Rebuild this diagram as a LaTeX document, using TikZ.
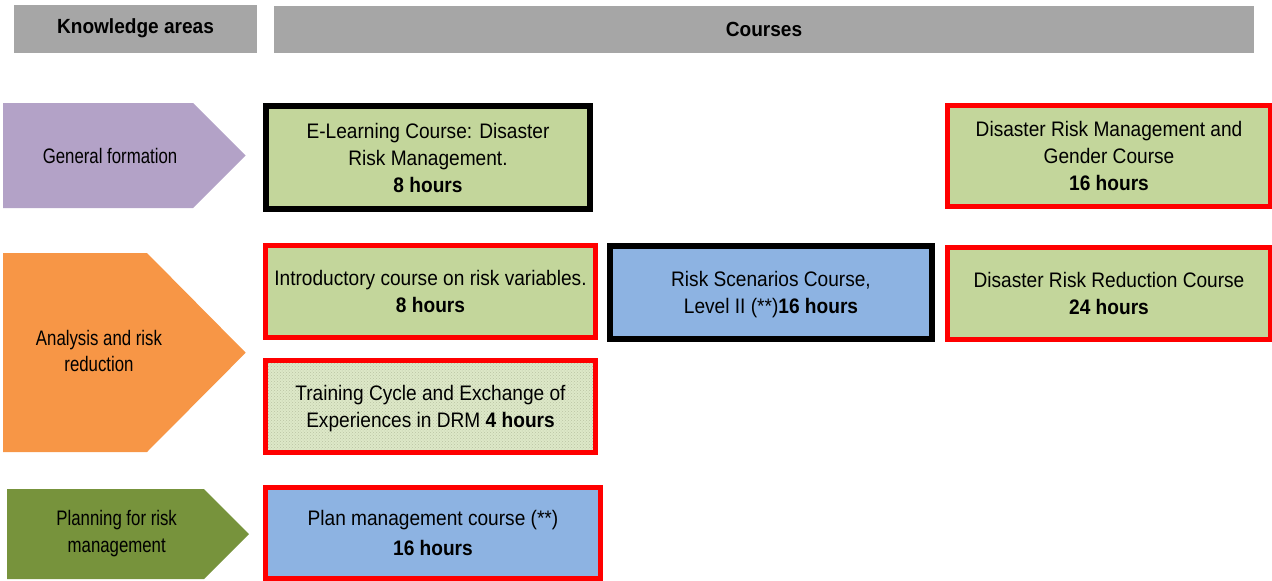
\documentclass[tikz,border=0pt]{standalone}
\usepackage{fontspec}
\setmainfont{Liberation Sans}
\newfontfamily\bodyf[FakeStretch=0.91]{Liberation Sans}
\newfontfamily\labf[FakeStretch=0.8]{Liberation Sans}
\newfontfamily\hdrf[FakeStretch=0.93]{Liberation Sans}
\usetikzlibrary{patterns}
\definecolor{hdrgray}{HTML}{A6A6A6}
\definecolor{olivefill}{HTML}{C3D69B}
\definecolor{palefill}{HTML}{DDE8C8}
\definecolor{bluefill}{HTML}{8DB3E2}
\definecolor{purplefill}{HTML}{B3A2C7}
\definecolor{orangefill}{HTML}{F79646}
\definecolor{greenfill}{HTML}{77933C}
\definecolor{redline}{HTML}{FF0000}
\tikzset{
  hdrbox/.style={fill=hdrgray, draw=none, inner sep=0pt, font=\hdrf\fontsize{20.5}{24}\selectfont\bfseries},
  coursebox/.style={inner sep=0pt, align=center, text depth=0pt, font=\bodyf\fontsize{21}{27}\selectfont},
  blackframe/.style={coursebox, draw=black, line width=6pt},
  redframe/.style={coursebox, draw=redline, line width=5pt},
  arealabel/.style={align=center, inner sep=0pt, font=\labf\fontsize{21}{26.5}\selectfont}
}
\begin{document}
\begin{tikzpicture}[x=1pt,y=-1pt]
\useasboundingbox (0,0) rectangle (1272,581);

% headers
\node[hdrbox, minimum width=243pt, minimum height=48pt] (hka) at (135.5,28.5) {Knowledge areas};
\node[hdrbox, minimum width=980pt, minimum height=47pt] (hco) at (764,29.5) {Courses};

% knowledge area arrows
\fill[purplefill] (3,103) -- (193,103) -- (245.7,155.5) -- (193,208) -- (3,208) -- cycle;
\fill[orangefill] (3,253) -- (147,253) -- (245.7,352.7) -- (147,452) -- (3,452) -- cycle;
\fill[greenfill] (7,489) -- (204,489) -- (249,534) -- (204,579) -- (7,579) -- cycle;
\node[arealabel] (gf) at (110,155.5) {General formation};
\node[arealabel] (ar) at (99,351) {Analysis and risk\\reduction};
\node[arealabel] (pl) at (116.7,533.8) {Planning for risk\\management};

% course boxes
\node[blackframe, fill=olivefill, minimum width=324pt, minimum height=103pt] (el) at (428,157.5)
  {E-Learning Course: Disaster\\Risk Management.\\\textbf{8 hours}};
\node[redframe, fill=olivefill, minimum width=323pt, minimum height=101pt] (gc) at (1109,156)
  {Disaster Risk Management and\\Gender Course\\\textbf{16 hours}};
\node[redframe, fill=olivefill, minimum width=330pt, minimum height=92pt] (ic) at (430.5,291.5)
  {Introductory course on risk variables.\\\textbf{8 hours}};
\node[blackframe, fill=bluefill, minimum width=322pt, minimum height=93pt] (rs) at (771,292.5)
  {Risk Scenarios Course,\\Level II (**)\textbf{16 hours}};
\node[redframe, fill=olivefill, minimum width=323pt, minimum height=92pt] (dr) at (1109,293.5)
  {Disaster Risk Reduction Course\\\textbf{24 hours}};
\node[redframe, preaction={fill=palefill}, pattern=crosshatch dots, pattern color=olivefill!80!black!70,
  minimum width=330pt, minimum height=92pt] (tc) at (430.5,406.5)
  {Training Cycle and Exchange of\\Experiences in DRM \textbf{4 hours}};
\node[redframe, fill=bluefill, minimum width=335pt, minimum height=91pt] (pm) at (433,533)
  {Plan management course (**)\\[3pt]\textbf{16 hours}};
\end{tikzpicture}
\end{document}
